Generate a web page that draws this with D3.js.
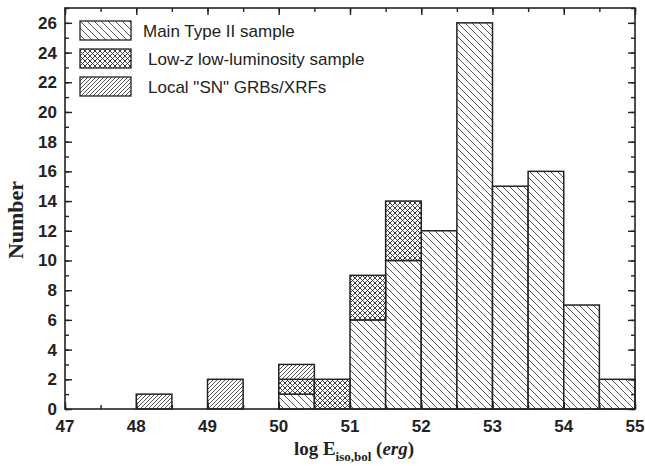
<!DOCTYPE html>
<html>
<head>
<meta charset="utf-8">
<script src="https://cdn.jsdelivr.net/npm/d3@7"></script>
<style>
  body { margin: 0; background: #fff; }
  svg { display: block; }
  .tick-label { font-family: "Liberation Sans", Arial, sans-serif; font-weight: bold; font-size: 17px; fill: #222; }
  .legend-text { font-family: "Liberation Sans", Arial, sans-serif; font-size: 17px; fill: #222; }
  .axis-title { font-family: "Liberation Serif", "Times New Roman", serif; font-weight: bold; fill: #222; }
</style>
</head>
<body>
<svg id="chart" width="645" height="466"></svg>
<script>
// bin left edges (width 0.5), counts per sample, stacked main -> lowz -> local
const binStart = [48.0, 49.0, 50.0, 50.5, 51.0, 51.5, 52.0, 52.5, 53.0, 53.5, 54.0, 54.5];
const mainType = [0, 0, 1, 0, 6, 10, 12, 26, 15, 16, 7, 2];
const lowZ     = [0, 0, 1, 2, 3, 4, 0, 0, 0, 0, 0, 0];
const localSN  = [1, 2, 1, 0, 0, 0, 0, 0, 0, 0, 0, 0];
const binWidth = 0.5;

const xTicks = [47, 48, 49, 50, 51, 52, 53, 54, 55];
const yTicks = [0, 2, 4, 6, 8, 10, 12, 14, 16, 18, 20, 22, 24, 26];

const legendLabels = ["Main Type II sample", "Low-z low-luminosity sample", "Local \"SN\" GRBs/XRFs"];

const margin = { top: 8, left: 65, bottom: 57, right: 10 };
const W = 645, H = 466;
const iw = W - margin.left - margin.right;
const ih = H - margin.top - margin.bottom;

const svg = d3.select("#chart");

// hatch patterns
const defs = svg.append("defs");
function hatch(id, size, width, paths) {
    const p = defs.append("pattern")
        .attr("id", id)
        .attr("patternUnits", "userSpaceOnUse")
        .attr("width", size).attr("height", size);
    p.append("rect").attr("width", size).attr("height", size).attr("fill", "#fff");
    paths.forEach(d => p.append("path").attr("d", d)
        .attr("stroke", "#2a2a2a").attr("stroke-width", width).attr("fill", "none"));
}
const s1 = 7, s2 = 5, s3 = 4;
hatch("p-main", s1, 0.8, [`M0,0L${s1},${s1}`, `M${-s1},0L${s1},${2 * s1}`, `M0,${-s1}L${2 * s1},${s1}`]);
hatch("p-lowz", s2, 0.9, [`M0,0L${s2},${s2}`, `M0,${s2}L${s2},0`, `M${-s2},0L${s2},${2 * s2}`, `M0,${-s2}L${2 * s2},${s2}`,
    `M${-s2},${s2}L${s2},${-s2}`, `M0,${2 * s2}L${2 * s2},0`]);
hatch("p-local", s3, 0.8, [`M0,${s3}L${s3},0`, `M${-s3},${s3}L${s3},${-s3}`, `M0,${2 * s3}L${2 * s3},0`]);

const g = svg.append("g").attr("transform", `translate(${margin.left},${margin.top})`);

const x = d3.scaleLinear().domain([47, 55]).range([0, iw]);
const y = d3.scaleLinear().domain([0, 27]).range([ih, 0]);

// stacked bars
const rows = binStart.map((b, i) => ({ b, main: mainType[i], lowz: lowZ[i], local: localSN[i] }));
const stack = d3.stack().keys(["main", "lowz", "local"])(rows);
const fills = { main: "url(#p-main)", lowz: "url(#p-lowz)", local: "url(#p-local)" };

stack.forEach(layer => {
    g.append("g").selectAll("rect")
        .data(layer.filter(d => d[1] > d[0]))
        .join("rect")
        .attr("x", d => x(d.data.b))
        .attr("width", x(47 + binWidth) - x(47))
        .attr("y", d => y(d[1]))
        .attr("height", d => y(d[0]) - y(d[1]))
        .attr("fill", fills[layer.key])
        .attr("stroke", "#222")
        .attr("stroke-width", 1.5);
});

// frame
g.append("rect").attr("width", iw).attr("height", ih)
    .attr("fill", "none").attr("stroke", "#222").attr("stroke-width", 1.6);

// ticks (inward on all sides)
const axisStyle = sel => {
    sel.select(".domain").remove();
    sel.selectAll("line").attr("stroke", "#222").attr("stroke-width", 1.4);
    sel.selectAll("text").remove();
};
const xMinor = d3.range(47, 55.01, 0.5);
const yMinor = d3.range(0, 27.01, 1);

[[d3.axisBottom, ih], [d3.axisTop, 0]].forEach(([ax, ty]) => {
    g.append("g").attr("transform", `translate(0,${ty})`)
        .call(ax(x).tickValues(xMinor).tickSize(-4)).call(axisStyle);
    g.append("g").attr("transform", `translate(0,${ty})`)
        .call(ax(x).tickValues(xTicks).tickSize(-7)).call(axisStyle);
});
[[d3.axisLeft, 0], [d3.axisRight, iw]].forEach(([ax, tx]) => {
    g.append("g").attr("transform", `translate(${tx},0)`)
        .call(ax(y).tickValues(yMinor).tickSize(-4)).call(axisStyle);
    g.append("g").attr("transform", `translate(${tx},0)`)
        .call(ax(y).tickValues(yTicks).tickSize(-7)).call(axisStyle);
});

// tick labels
g.append("g").selectAll("text").data(xTicks).join("text")
    .attr("class", "tick-label")
    .attr("x", d => x(d)).attr("y", ih + 23)
    .attr("text-anchor", "middle")
    .text(d => d);
g.append("g").selectAll("text").data(yTicks).join("text")
    .attr("class", "tick-label")
    .attr("x", -8).attr("y", d => y(d) + 6)
    .attr("text-anchor", "end")
    .text(d => d);

// axis titles
const xt = svg.append("text").attr("class", "axis-title")
    .attr("x", 354).attr("y", 455)
    .attr("text-anchor", "middle").attr("font-size", 19);
xt.append("tspan").text("log E");
xt.append("tspan").attr("font-size", 13).attr("dy", 6).text("iso,bol");
xt.append("tspan").attr("dy", -6).text(" (");
xt.append("tspan").attr("font-style", "italic").text("erg");
xt.append("tspan").text(")");

svg.append("text").attr("class", "axis-title")
    .attr("transform", "translate(23,220) rotate(-90)")
    .attr("text-anchor", "middle").attr("font-size", 22)
    .text("Number");

// legend
const legFills = [fills.main, fills.lowz, fills.local];
const leg = svg.append("g").attr("transform", "translate(80,21)");
legendLabels.forEach((t, i) => {
    leg.append("rect").attr("x", 0).attr("y", i * 28).attr("width", 51).attr("height", 19)
        .attr("fill", legFills[i]).attr("stroke", "#222").attr("stroke-width", 1.3);
    const tx = leg.append("text").attr("class", "legend-text")
        .attr("x", i === 0 ? 63 : 68).attr("y", i * 28 + 16);
    if (i === 1) {
        tx.append("tspan").text("Low-");
        tx.append("tspan").attr("font-style", "italic").text("z");
        tx.append("tspan").text(" low-luminosity sample");
    } else {
        tx.text(t);
    }
});
</script>
</body>
</html>
